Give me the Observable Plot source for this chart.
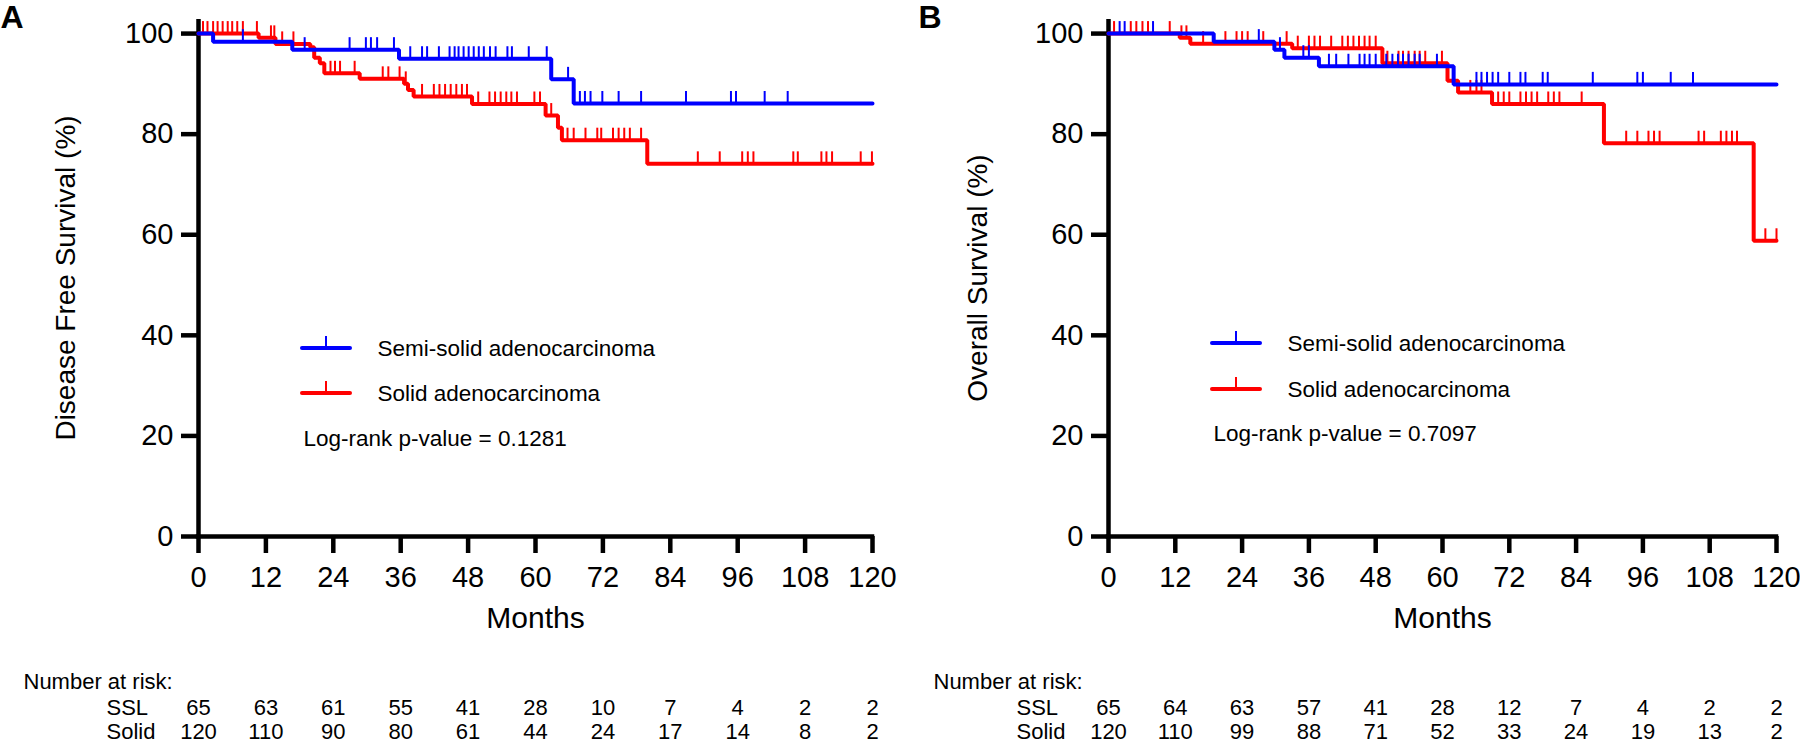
<!DOCTYPE html>
<html><head><meta charset="utf-8">
<script src="https://cdn.jsdelivr.net/npm/d3@7"></script>
<script src="https://cdn.jsdelivr.net/npm/@observablehq/plot@0.6"></script>
<style>
body{margin:0;background:#fff;}
#wrap{display:flex;width:1800px;height:745px;}
#wrap > div{width:900px;height:745px;}
svg{font-family:"Liberation Sans",Arial,Helvetica,sans-serif;}
</style></head><body><div id="wrap"><div id="a"></div><div id="b"></div></div>
<script>
// ---------- shared ----------
const months = [0, 12, 24, 36, 48, 60, 72, 84, 96, 108, 120];
const yTicks = [0, 20, 40, 60, 80, 100];
const groupNames = ["Semi-solid adenocarcinoma", "Solid adenocarcinoma"];
const rowNames = ["SSL", "Solid"];
const BLUE = "#0000ff", RED = "#ff0000";

// ---------- Panel A: Disease Free Survival ----------
const aSslTimes = [0, 2.6, 16.7, 35.7, 62.8, 66.8];
const aSslSurv  = [100, 98.4, 96.8, 95.0, 90.9, 86.1];
const aSslCens  = [7.9, 18.9, 26.9, 29.8, 30.7, 31.8, 34.8, 37.7, 39.8, 40.7, 42.8, 44.7, 45.6, 46.3, 47.2, 48.1, 49.0, 49.9, 50.8, 51.9, 52.9, 55.0, 55.8, 58.8, 62.0, 65.8, 67.9, 68.8, 69.8, 71.9, 74.8, 78.8, 86.8, 94.8, 95.7, 100.8, 104.9];
const aSolTimes = [0, 10.7, 13.7, 19.9, 20.6, 21.6, 22.4, 28.7, 36.6, 37.3, 38.3, 48.7, 61.8, 64.0, 64.7, 79.9];
const aSolSurv  = [100, 99.15, 97.95, 97.3, 95.2, 94.1, 92.1, 91.0, 90.0, 88.8, 87.5, 86.0, 83.7, 81.3, 78.8, 74.1];
const aSolCens  = [0.8, 1.6, 2.6, 3.4, 4.3, 5.2, 6.0, 6.9, 7.9, 10.4, 12.9, 13.5, 14.9, 16.9, 23.5, 24.3, 25.2, 27.8, 32.8, 33.8, 35.8, 36.9, 39.8, 41.9, 42.9, 43.9, 44.9, 45.9, 46.9, 47.8, 49.8, 51.8, 52.8, 53.8, 54.8, 55.7, 56.7, 59.8, 60.8, 62.8, 65.7, 66.8, 68.9, 71.0, 71.7, 73.8, 74.8, 75.8, 76.8, 78.8, 88.9, 92.8, 96.8, 97.8, 98.8, 105.9, 106.7, 110.9, 111.8, 112.8, 117.9, 119.9];
const aSslRisk = [65, 63, 61, 55, 41, 28, 10, 7, 4, 2, 2];
const aSolRisk = [120, 110, 90, 80, 61, 44, 24, 17, 14, 8, 2];

// ---------- Panel B: Overall Survival ----------
const bSslTimes = [0, 18.9, 29.8, 31.6, 37.8, 62.0];
const bSslSurv  = [100, 98.4, 96.8, 95.2, 93.5, 89.9];
const bSslCens  = [2.0, 2.9, 8.0, 27.0, 30.8, 35.0, 36.0, 39.6, 40.9, 43.1, 45.1, 46.0, 46.9, 48.0, 49.9, 51.0, 52.0, 52.9, 53.9, 55.0, 55.9, 59.0, 66.1, 67.0, 68.0, 69.0, 70.0, 72.0, 74.0, 74.9, 78.0, 78.9, 87.0, 95.0, 96.0, 101.0, 105.0];
const bSolTimes = [0, 12.8, 14.7, 33.0, 49.2, 60.9, 62.8, 68.9, 89.0, 115.9];
const bSolSurv  = [100, 99.15, 98.0, 97.1, 94.1, 90.6, 88.3, 86.0, 78.2, 58.8];
const bSolCens  = [1.0, 4.0, 5.0, 6.1, 7.1, 11.0, 13.1, 14.0, 17.0, 21.0, 23.0, 24.0, 25.0, 27.8, 32.0, 34.0, 36.0, 37.0, 38.0, 40.0, 42.0, 43.0, 44.0, 45.0, 46.0, 46.9, 48.0, 50.1, 52.1, 52.9, 53.9, 55.0, 55.9, 56.9, 59.9, 65.0, 66.1, 67.0, 70.0, 71.0, 72.0, 74.0, 75.0, 76.0, 77.0, 79.0, 80.0, 81.0, 85.0, 93.0, 95.0, 97.0, 98.0, 99.0, 106.0, 107.0, 110.0, 111.0, 112.0, 112.9, 118.0, 120.0];
const bSslRisk = [65, 64, 63, 57, 41, 28, 12, 7, 4, 2, 2];
const bSolRisk = [120, 110, 99, 88, 71, 52, 33, 24, 19, 13, 2];

// ---------- helpers ----------
const X_MAX = 120, Y_TOP = 102.8, H = 745, FRAME_TOP = 19, FRAME_BOTTOM = 536;
function stepData(times, surv) {
  const pts = times.map((t, i) => ({t, s: surv[i]}));
  pts.push({t: X_MAX, s: surv[surv.length - 1]});
  return pts;
}
function survAt(times, surv, t) {
  let k = 0;
  for (let i = 0; i < times.length; i++) if (times[i] <= t) k = i;
  return surv[k];
}
function censData(times, surv, cens) {
  return cens.map(t => ({t, s: survAt(times, surv, t)}));
}
function legendSymbols(dy1, dy2) {
  return (index, scales, values, dim) => {
    const g = d3.create("svg:g");
    const x0 = dim.marginLeft + 104, x1 = dim.marginLeft + 152, xm = dim.marginLeft + 128;
    [[dy1, BLUE], [dy2, RED]].forEach(([dy, c]) => {
      const y = dim.marginTop + dy;
      g.append("line").attr("x1", x0).attr("x2", x1).attr("y1", y).attr("y2", y)
        .attr("stroke", c).attr("stroke-width", 4).attr("stroke-linecap", "round");
      g.append("line").attr("x1", xm).attr("x2", xm).attr("y1", y).attr("y2", y - 12)
        .attr("stroke", c).attr("stroke-width", 2);
    });
    return g.node();
  };
}

function panel(o) {
  const frameH = FRAME_BOTTOM - FRAME_TOP;
  const tickLen = 12 * Y_TOP / frameH;
  const cens = (times, surv, c) => censData(times, surv, c).map(d => ({t: d.t, s: d.s, s2: d.s + tickLen}));
  const txt = {fill: "black", fontSize: 22.5};
  return Plot.plot({
    width: 900, height: H,
    marginLeft: o.ml, marginRight: o.mr, marginTop: FRAME_TOP, marginBottom: H - FRAME_BOTTOM,
    style: {background: "white", color: "black", fontFamily: '"Liberation Sans", Arial, sans-serif', overflow: "visible"},
    x: {domain: [0, X_MAX]},
    y: {domain: [0, Y_TOP]},
    marks: [
      Plot.axisY({ticks: yTicks, tickSize: 17, tickPadding: 8, fontSize: 29, strokeWidth: 4.5, label: null}),
      Plot.axisX({ticks: months, tickSize: 17, tickPadding: 13, fontSize: 29, strokeWidth: 4.5, label: null}),
      Plot.ruleX([0], {strokeWidth: 4.5, stroke: "black"}),
      Plot.ruleY([0], {strokeWidth: 4.5, stroke: "black", strokeLinecap: "square"}),
      // Solid (red) below, SSL (blue) above
      Plot.ruleX(cens(o.solT, o.solS, o.solC), {x: "t", y1: "s", y2: "s2", stroke: RED, strokeWidth: 2}),
      Plot.line(stepData(o.solT, o.solS), {x: "t", y: "s", curve: "step-after", stroke: RED, strokeWidth: 4, strokeLinejoin: "miter"}),
      Plot.ruleX(cens(o.sslT, o.sslS, o.sslC), {x: "t", y1: "s", y2: "s2", stroke: BLUE, strokeWidth: 2}),
      Plot.line(stepData(o.sslT, o.sslS), {x: "t", y: "s", curve: "step-after", stroke: BLUE, strokeWidth: 4, strokeLinejoin: "miter"}),
      // legend
      legendSymbols(o.leg[0], o.leg[1]),
      Plot.text([groupNames[0]], {...txt, frameAnchor: "top-left", dx: 179, dy: o.leg[0], textAnchor: "start", lineAnchor: "middle"}),
      Plot.text([groupNames[1]], {...txt, frameAnchor: "top-left", dx: 179, dy: o.leg[1], textAnchor: "start", lineAnchor: "middle"}),
      Plot.text([o.pText], {...txt, frameAnchor: "top-left", dx: 105, dy: o.leg[2], textAnchor: "start", lineAnchor: "middle"}),
      // titles
      Plot.text([o.yTitle], {fill: "black", fontSize: 28, frameAnchor: "left", textAnchor: "middle", lineAnchor: "middle", dx: o.titleDx, rotate: -90}),
      Plot.text(["Months"], {fill: "black", fontSize: 30, frameAnchor: "bottom", textAnchor: "middle", dy: 91}),
      Plot.text([o.letter], {fill: "black", fontSize: 32, fontWeight: "bold", frameAnchor: "top-left", dx: o.letterDx, dy: -2, textAnchor: "start", lineAnchor: "middle"}),
      // number at risk table
      Plot.text(["Number at risk:"], {fill: "black", fontSize: 22, frameAnchor: "bottom-left", dx: -175, dy: 145, textAnchor: "start", lineAnchor: "middle"}),
      Plot.text([rowNames[0]], {fill: "black", fontSize: 22, frameAnchor: "bottom-left", dx: -92, dy: 171, textAnchor: "start", lineAnchor: "middle"}),
      Plot.text([rowNames[1]], {fill: "black", fontSize: 22, frameAnchor: "bottom-left", dx: -92, dy: 195, textAnchor: "start", lineAnchor: "middle"}),
      Plot.text(months, {x: d => d, text: (d, i) => o.sslRisk[i], fill: "black", fontSize: 22, frameAnchor: "bottom", dy: 171, lineAnchor: "middle"}),
      Plot.text(months, {x: d => d, text: (d, i) => o.solRisk[i], fill: "black", fontSize: 22, frameAnchor: "bottom", dy: 195, lineAnchor: "middle"})
    ]
  });
}

document.getElementById("a").append(panel({
  ml: 198, mr: 28, letter: "A", letterDx: -198, titleDx: -132,
  yTitle: "Disease Free Survival (%)", pText: "Log-rank p-value = 0.1281",
  leg: [329, 374, 419],
  sslT: aSslTimes, sslS: aSslSurv, sslC: aSslCens,
  solT: aSolTimes, solS: aSolSurv, solC: aSolCens,
  sslRisk: aSslRisk, solRisk: aSolRisk
}));
document.getElementById("b").append(panel({
  ml: 208, mr: 24, letter: "B", letterDx: -190, titleDx: -130,
  yTitle: "Overall Survival (%)", pText: "Log-rank p-value = 0.7097",
  leg: [324, 370, 414],
  sslT: bSslTimes, sslS: bSslSurv, sslC: bSslCens,
  solT: bSolTimes, solS: bSolSurv, solC: bSolCens,
  sslRisk: bSslRisk, solRisk: bSolRisk
}));
</script></body></html>
